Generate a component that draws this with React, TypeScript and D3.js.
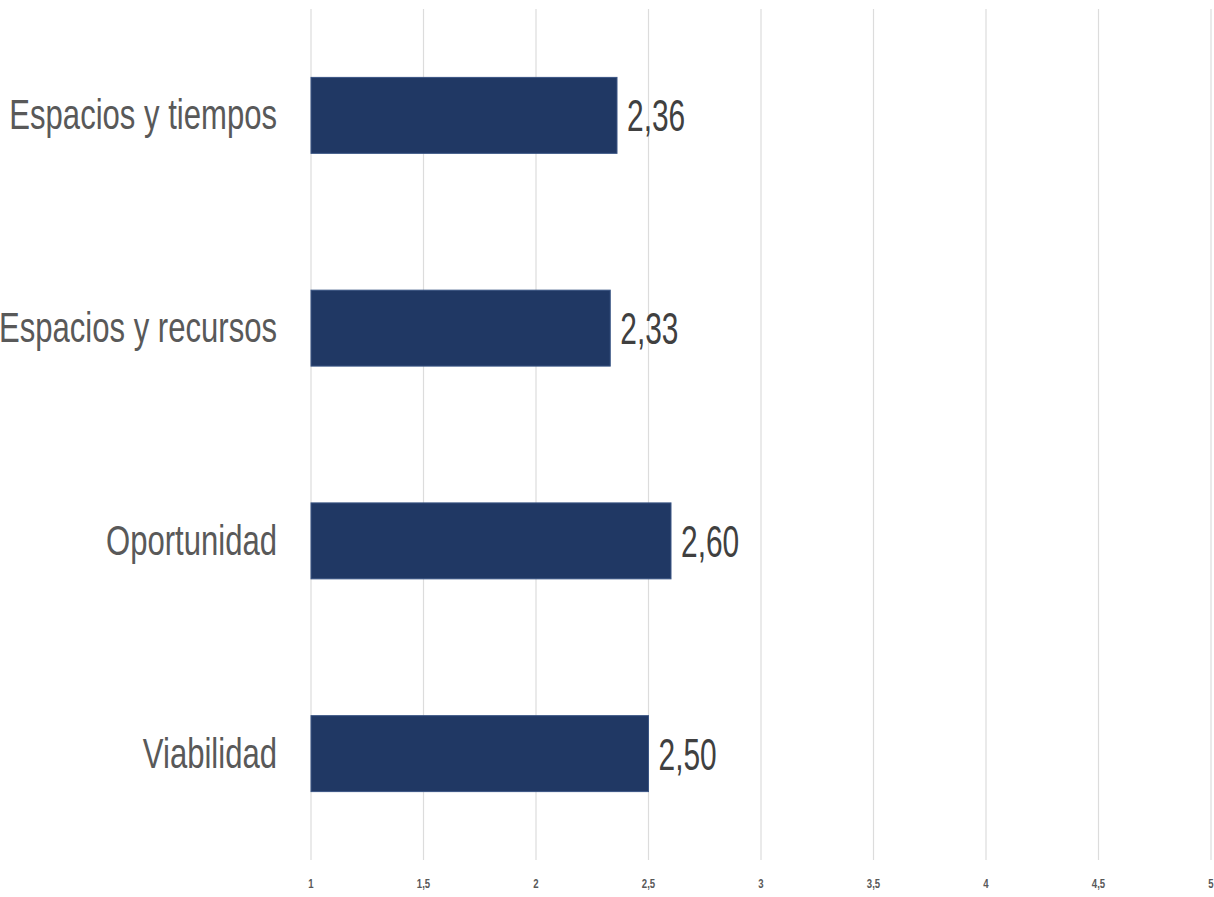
import React from "react";
import * as d3 from "d3";

const categories = ["Espacios y tiempos", "Espacios y recursos", "Oportunidad", "Viabilidad"];
const values = [2.36, 2.33, 2.6, 2.5];
const valueLabels = ["2,36", "2,33", "2,60", "2,50"];
const tickValues = [1, 1.5, 2, 2.5, 3, 3.5, 4, 4.5, 5];
const tickLabels = ["1", "1,5", "2", "2,5", "3", "3,5", "4", "4,5", "5"];

const W = 1214;
const H = 897;
const FONT = "'Liberation Sans Narrow', 'Liberation Sans', Arial, sans-serif";

export default function App() {
  const x = d3.scaleLinear().domain([1, 5]).range([311, 1211]);
  const y = d3
    .scaleBand<string>()
    .domain(categories)
    .range([9, 860])
    .paddingInner(0.643)
    .paddingOuter(0.3215);
  const bw = y.bandwidth();
  const labelX = 277;
  const catScale = 0.74;
  const valScale = 0.68;

  return (
    <svg
      width={W}
      height={H}
      style={{ position: "absolute", left: 0, top: 0, background: "#fff" }}
    >
      <rect x={0} y={0} width={W} height={H} fill="#fff" />
      {tickValues.map((t, i) => (
        <g key={"g" + i}>
          <line
            x1={x(t)}
            x2={x(t)}
            y1={9}
            y2={860}
            stroke="#dcdcdc"
            strokeWidth={1.2}
          />
          <text
            transform={`translate(${x(t)},888) scale(0.8,1)`}
            textAnchor="middle"
            fontFamily={FONT}
            fontWeight="bold"
            fontSize={12}
            fill="#595959"
          >
            {tickLabels[i]}
          </text>
        </g>
      ))}
      {categories.map((c, i) => {
        const yy = y(c)!;
        const cy = yy + bw / 2;
        return (
          <g key={c}>
            <rect
              x={x(1)}
              y={yy}
              width={x(values[i]) - x(1)}
              height={bw}
              fill="#203864"
              stroke="#3a5584"
              strokeWidth={1}
            />
            <text
              transform={`translate(${labelX},${cy + 14}) scale(${catScale},1)`}
              textAnchor="end"
              fontFamily={FONT}
              fontSize={42}
              fill="#595959"
            >
              {c}
            </text>
            <text
              transform={`translate(${x(values[i]) + 10},${cy + 16}) scale(${valScale},1)`}
              textAnchor="start"
              fontFamily={FONT}
              fontSize={44}
              fill="#404040"
            >
              {valueLabels[i]}
            </text>
          </g>
        );
      })}
    </svg>
  );
}
